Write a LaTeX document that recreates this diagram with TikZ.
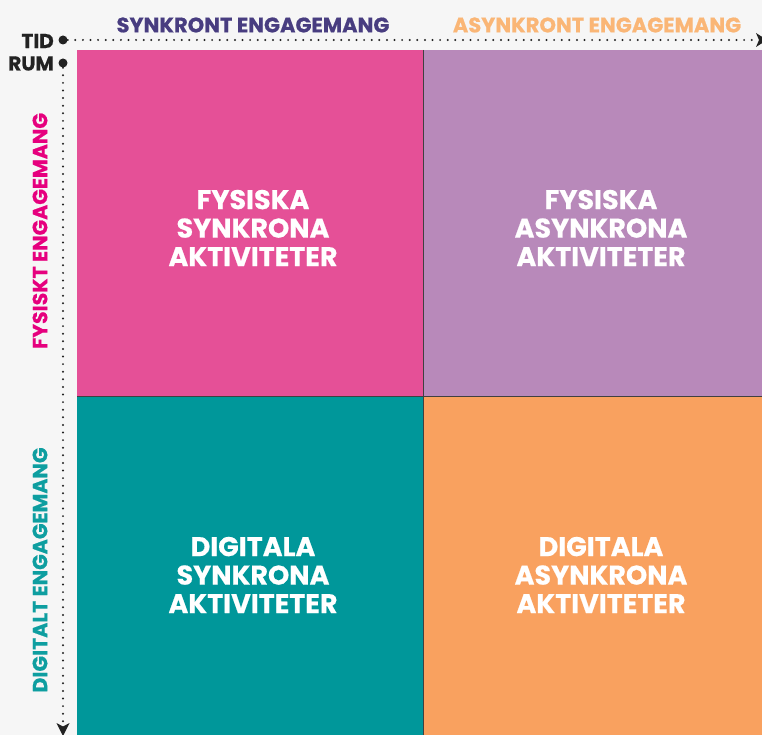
\documentclass[tikz,border=0pt]{standalone}
\usepackage{fontspec}
\setmainfont{Poppins}[BoldFeatures={FakeBold=0.6}]
\usetikzlibrary{arrows.meta}
\definecolor{bg}{HTML}{F6F6F6}
\definecolor{qpink}{HTML}{E55097}
\definecolor{qpurple}{HTML}{B889BA}
\definecolor{qteal}{HTML}{00979A}
\definecolor{qorange}{HTML}{F9A15F}
\definecolor{synk}{HTML}{483D80}
\definecolor{asynk}{HTML}{FAB676}
\definecolor{fys}{HTML}{E6007E}
\definecolor{dig}{HTML}{0E9EA0}
\definecolor{ink}{HTML}{222222}
\tikzset{
  quad/.style={anchor=north west, minimum width=346pt, minimum height=346pt, inner sep=0pt, outer sep=0pt},
  quadtext/.style={text=white, align=center, font=\fontsize{27}{28.5}\selectfont\bfseries},
  axislabel/.style={font=\fontsize{21}{22}\selectfont\bfseries, inner sep=0pt},
  vlabel/.style={font=\fontsize{20.5}{22}\selectfont\bfseries, inner sep=0pt, rotate=90},
  sidelabel/.style={font=\fontsize{20}{22}\selectfont\bfseries, inner sep=0pt, anchor=east, text=ink},
  dotline/.style={draw=ink, line width=2.2pt, line cap=round, dash pattern=on 0pt off 7.6pt},
  bigdot/.style={circle, fill=ink, inner sep=0pt, minimum size=9pt},
  divider/.style={draw=black!75, line width=0.8pt}
}
\begin{document}
\begin{tikzpicture}[x=1pt,y=-1pt]
\useasboundingbox (0,0) rectangle (762,735);
\fill[bg] (0,0) rectangle (762,735);
% quadrants
\node[quad, fill=qpink] (fs) at (77,50) {};
\node[quad, fill=qpurple] (fa) at (423,50) {};
\node[quad, fill=qteal] (ds) at (77,396) {};
\node[quad, fill=qorange] (da) at (423,396) {};
\draw[divider] (fs.north east) -- (ds.south east);
\draw[divider] (fs.south west) -- (fa.south east);
% quadrant texts
\node[quadtext] (tfs) at (253,228) {FYSISKA\\SYNKRONA\\AKTIVITETER};
\node[quadtext] (tfa) at (601,228) {FYSISKA\\ASYNKRONA\\AKTIVITETER};
\node[quadtext] (tds) at (253,575) {DIGITALA\\SYNKRONA\\AKTIVITETER};
\node[quadtext] (tda) at (601,575) {DIGITALA\\ASYNKRONA\\AKTIVITETER};
% axes
\node[bigdot] (tid) at (63,40) {};
\node[bigdot] (rum) at (63,63) {};
\coordinate (tidend) at (758,40);
\coordinate (rumend) at (63,724);
\draw[dotline] (tid) -- (tidend);
\draw[dotline] (rum) -- (rumend);
\fill[ink] (tidend) ++(9,0) -- ++(-11,-7) -- ++(3,7) -- ++(-3,7) -- cycle;
\fill[ink] (rumend) ++(0,12) -- ++(-6.5,-13) -- ++(6.5,3.5) -- ++(6.5,-3.5) -- cycle;
\node[sidelabel] (tidl) at (54,41) {TID};
\node[sidelabel] (ruml) at (54,63.5) {RUM};
% axis labels
\node[axislabel, text=synk] (lsynk) at (253,25) {SYNKRONT ENGAGEMANG};
\node[axislabel, text=asynk] (lasynk) at (597,25) {ASYNKRONT ENGAGEMANG};
\node[vlabel, text=fys] (lfys) at (40,231) {FYSISKT ENGAGEMANG};
\node[vlabel, text=dig] (ldig) at (40,570) {DIGITALT ENGAGEMANG};
\end{tikzpicture}
\end{document}
